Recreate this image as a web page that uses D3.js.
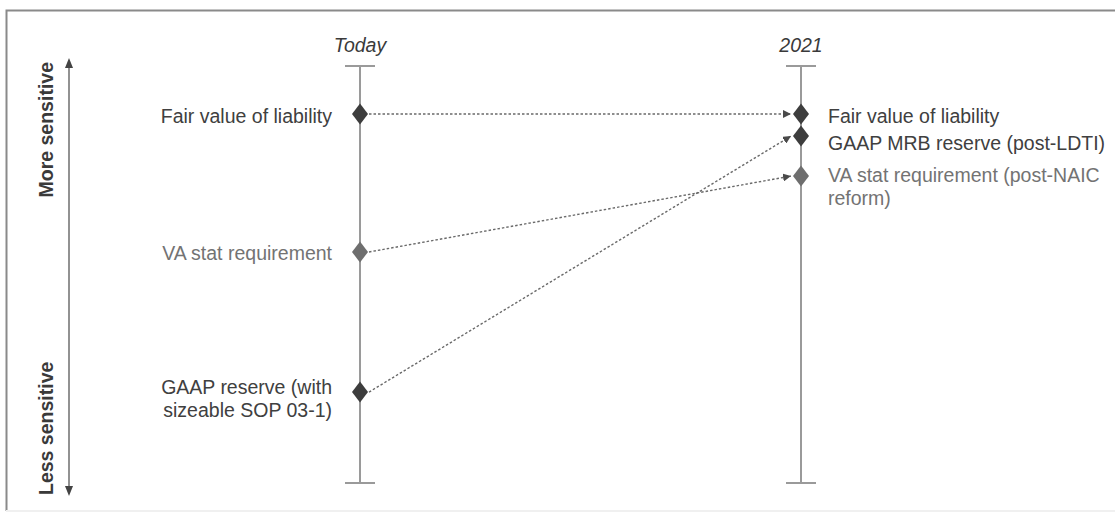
<!DOCTYPE html>
<html>
<head>
<meta charset="utf-8">
<script src="https://cdn.jsdelivr.net/npm/d3@7"></script>
<style>
  body { margin: 0; background: #fff; }
  svg text { font-family: "Liberation Sans", Arial, sans-serif; }
</style>
</head>
<body>
<svg id="chart" width="1115" height="514"></svg>
<script>
'use strict'

// periods on the x axis
const periods = ['Today', '2021']

// sensitivity score (0 = least, 100 = most) for each measure at each period
const todayItems = ['Fair value of liability', 'VA stat requirement', 'GAAP reserve (with|sizeable SOP 03-1)']
const todayScores = [88.5, 55.4, 21.8]
const todayShade = ['dark', 'mid', 'dark']

const futureItems = ['Fair value of liability', 'GAAP MRB reserve (post-LDTI)', 'VA stat requirement (post-NAIC|reform)']
const futureScores = [88.5, 83.2, 73.6]
const futureShade = ['dark', 'dark', 'mid']

// which "today" item moves to which "2021" item
const linkFrom = [0, 1, 2]
const linkTo = [0, 2, 1]

const axisLabels = ['More sensitive', 'Less sensitive']

const shades = { dark: '#3d3d3d', mid: '#6e6e6e' }
const textShades = { dark: '#404040', mid: '#737373' }

// vertical nudge of each label's first baseline from its diamond (px)
const todayNudge = [9, 8, 2]
const futureNudge = [9, 14, 6]

const fontSize = 19.5
const lineGap = 22.5

const svg = d3.select('#chart')

// frame
svg.append('path')
  .attr('d', 'M1116,10.5 H6.5 V511')
  .attr('fill', 'none')
  .attr('stroke', '#8a8a8a')
  .attr('stroke-width', 2)
svg.append('line')
  .attr('x1', 6).attr('x2', 1115).attr('y1', 511).attr('y2', 511)
  .attr('stroke', '#f0f0f0').attr('stroke-width', 2)

// scales
const x = d3.scalePoint().domain(periods).range([360, 801])
const y = d3.scaleLinear().domain([100, 0]).range([66, 483])

const defs = svg.append('defs')
defs.append('marker')
  .attr('id', 'tip')
  .attr('viewBox', '0 0 10 10')
  .attr('refX', 10).attr('refY', 5)
  .attr('markerWidth', 8).attr('markerHeight', 8)
  .attr('markerUnits', 'userSpaceOnUse')
  .attr('orient', 'auto')
  .append('path')
  .attr('d', 'M0,0 L10,5 L0,10 Z')
  .attr('fill', '#4a4a4a')

// period axes (vertical lines with caps)
const axes = svg.append('g').selectAll('g')
  .data(periods)
  .join('g')
  .attr('transform', d => `translate(${x(d)},0)`)
axes.append('line')
  .attr('y1', y(100)).attr('y2', y(0))
  .attr('stroke', '#9a9a9a').attr('stroke-width', 2)
axes.selectAll('line.cap')
  .data([100, 0])
  .join('line')
  .attr('class', 'cap')
  .attr('x1', -15).attr('x2', 15)
  .attr('y1', d => y(d)).attr('y2', d => y(d))
  .attr('stroke', '#9a9a9a').attr('stroke-width', 2)
axes.append('text')
  .attr('y', 52)
  .attr('text-anchor', 'middle')
  .attr('font-style', 'italic')
  .attr('font-size', fontSize)
  .attr('fill', '#3a3a3a')
  .text(d => d)

// links between periods
const links = linkFrom.map((f, i) => ({ y0: todayScores[f], y1: futureScores[linkTo[i]] }))
svg.append('g').selectAll('line')
  .data(links)
  .join('line')
  .attr('x1', x('Today') + 9)
  .attr('y1', d => y(d.y0))
  .attr('x2', x('2021') - 10)
  .attr('y2', d => y(d.y1))
  .attr('stroke', '#6a6a6a')
  .attr('stroke-width', 1.4)
  .attr('stroke-dasharray', '2.5,2')
  .attr('marker-end', 'url(#tip)')

// diamonds and labels
const diamond = 'M0,-10.5 L8,0 L0,10.5 L-8,0 Z'
function drawColumn (period, items, scores, shade, nudge, side) {
  const g = svg.append('g')
  g.selectAll('path')
    .data(scores)
    .join('path')
    .attr('d', diamond)
    .attr('transform', d => `translate(${x(period)},${y(d)})`)
    .attr('fill', (d, i) => shades[shade[i]])
  const labels = g.selectAll('text')
    .data(items)
    .join('text')
    .attr('font-size', fontSize)
    .attr('fill', (d, i) => textShades[shade[i]])
    .attr('text-anchor', side < 0 ? 'end' : 'start')
    .attr('x', x(period) + side * (side < 0 ? 28 : 27))
    .attr('y', (d, i) => y(scores[i]) + nudge[i])
  labels.each(function (d) {
    const t = d3.select(this)
    d.split('|').forEach((part, k) => {
      t.append('tspan')
        .attr('x', t.attr('x'))
        .attr('dy', k === 0 ? 0 : lineGap)
        .text(part)
    })
  })
}
drawColumn('Today', todayItems, todayScores, todayShade, todayNudge, -1)
drawColumn('2021', futureItems, futureScores, futureShade, futureNudge, 1)

// sensitivity arrow on the left
const arrowX = 69
svg.append('line')
  .attr('x1', arrowX).attr('x2', arrowX)
  .attr('y1', 61).attr('y2', 493)
  .attr('stroke', '#777').attr('stroke-width', 1.6)
svg.append('path')
  .attr('d', `M${arrowX - 4},68 L${arrowX},58 L${arrowX + 4},68 Z`)
  .attr('fill', '#444')
svg.append('path')
  .attr('d', `M${arrowX - 4},486 L${arrowX},496 L${arrowX + 4},486 Z`)
  .attr('fill', '#444')

svg.selectAll('text.side')
  .data(axisLabels)
  .join('text')
  .attr('class', 'side')
  .attr('font-size', fontSize)
  .attr('font-weight', 'bold')
  .attr('fill', '#3a3a3a')
  .attr('text-anchor', (d, i) => i === 0 ? 'end' : 'start')
  .attr('transform', (d, i) => i === 0 ? 'translate(53,62) rotate(-90)' : 'translate(53,495) rotate(-90)')
  .text(d => d)
</script>
</body>
</html>
